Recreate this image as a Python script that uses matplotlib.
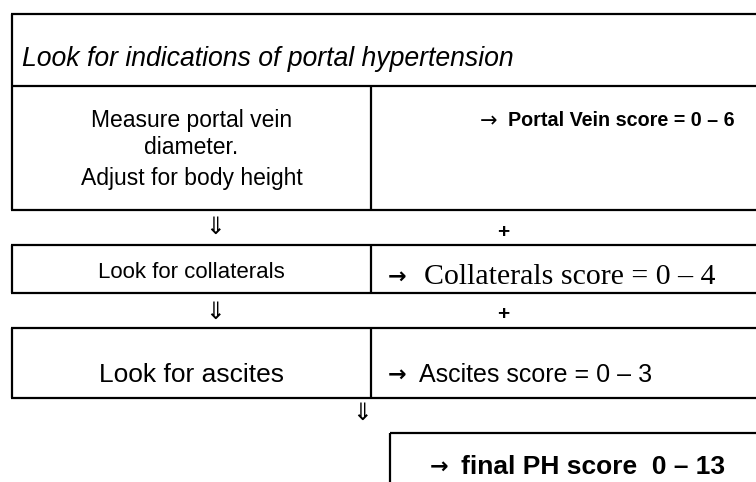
import matplotlib
matplotlib.use('Agg')
import matplotlib.pyplot as plt

# Тексты схемы
header = 'Look for indications of portal hypertension'
step_lines = ['Measure portal vein', 'diameter.', 'Adjust for body height']
steps = ['Look for collaterals', 'Look for ascites']
arrow = '\u2192'
scores = ['Portal Vein score = 0 \u2013 6',
          'Collaterals score = 0 \u2013 4',
          'Ascites score = 0 \u2013 3']
final_score = 'final PH score  0 \u2013 13'
down_arrow = '\u21d3'
plus = '+'

# Разметка (в пикселях картинки)
W, H = 756, 482
left, mid = 12, 371
row_y = [14, 86, 210, 245, 293, 328, 398]

fig = plt.figure(figsize=(7.56, 4.82), dpi=100)
ax = fig.add_axes([0, 0, 1, 1])
ax.set_xlim(0, W)
ax.set_ylim(H, 0)
ax.axis('off')

lw = 1.6
sans = ['Liberation Sans', 'DejaVu Sans']
serif = ['Liberation Serif', 'DejaVu Serif']
sym = ['DejaVu Sans']

# Горизонтальные линии
for y in row_y:
    ax.hlines(y, left - 1, W, color='black', lw=lw)
# Вертикальные линии слева и разделители
for y0, y1 in [(row_y[0], row_y[2]), (row_y[3], row_y[4]), (row_y[5], row_y[6])]:
    ax.vlines(left, y0, y1, color='black', lw=lw)
for y0, y1 in [(row_y[1], row_y[2]), (row_y[3], row_y[4]), (row_y[5], row_y[6])]:
    ax.vlines(mid, y0, y1, color='black', lw=lw)

# Итоговый блок
ax.hlines(433, 390, W, color='black', lw=lw)
ax.vlines(390, 433, H, color='black', lw=lw)

cx = (left + mid) / 2
ax.text(22, 59, header, fontsize=19.2, style='italic', family=sans, ha='left', va='center')
for y, s in zip([121, 148, 179], step_lines):
    ax.text(cx, y, s, fontsize=16.5, family=sans, ha='center', va='center')

# Оценки справа: стрелка отдельно
ax.text(480, 121, arrow, fontsize=15, family=sym, ha='left', va='center')
ax.text(508, 121, scores[0], fontsize=14.2, weight='bold', family=sans, ha='left', va='center')

ax.text(cx, 273, steps[0], fontsize=16, family=sans, ha='center', va='center')
ax.text(388, 277, arrow, fontsize=16, weight='bold', family=sym, ha='left', va='center')
ax.text(424, 277, scores[1], fontsize=21.5, family=serif, ha='left', va='center')

ax.text(cx, 375, steps[1], fontsize=19, family=sans, ha='center', va='center')
ax.text(388, 375, arrow, fontsize=16, weight='bold', family=sym, ha='left', va='center')
ax.text(419, 375, scores[2], fontsize=18, family=sans, ha='left', va='center')

for x, y in [(215, 227), (215, 312), (362, 413)]:
    ax.text(x, y, down_arrow, fontsize=17, family=sym, ha='center', va='center')
for y in [232, 315]:
    ax.text(503, y, plus, fontsize=15, weight='bold', family=sans, ha='center', va='center')

ax.text(430, 467, arrow, fontsize=16, weight='bold', family=sym, ha='left', va='center')
ax.text(461, 467, final_score, fontsize=19, weight='bold', family=sans, ha='left', va='center')

fig.savefig('out.png', dpi=100, facecolor='white')
